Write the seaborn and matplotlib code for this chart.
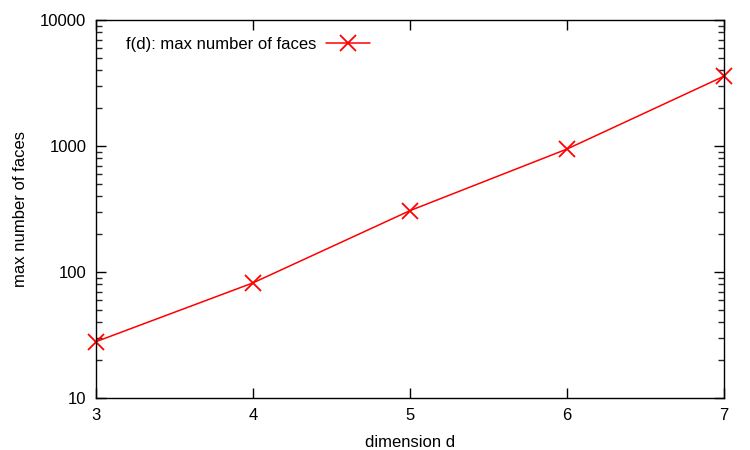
import matplotlib
matplotlib.use("Agg")
import matplotlib.pyplot as plt
import seaborn as sns
import pandas as pd
from matplotlib.ticker import LogLocator, NullFormatter

dims = [3, 4, 5, 6, 7]
faces = [28, 82, 307, 946, 3580]
series_label = "f(d): max number of faces"
y_ticks = [10, 100, 1000, 10000]
y_tick_labels = ["10", "100", "1000", "10000"]

sns.set_style("ticks")
plt.rcParams['font.family'] = ['Liberation Sans', 'DejaVu Sans']
plt.rcParams['text.color'] = 'black'
plt.rcParams['axes.labelcolor'] = 'black'

df = pd.DataFrame({"d": dims, "faces": faces})

fig = plt.figure(figsize=(7.5, 4.5), dpi=100)
ax = fig.add_axes([96/750, 1-398/450, (724-96)/750, (398-20)/450])

sns.lineplot(data=df, x="d", y="faces", ax=ax, color="#ff0000", linewidth=1.1,
             marker="x", markersize=11, markeredgewidth=1.3,
             markeredgecolor="#ff0000", label=series_label, clip_on=False)

ax.set_yscale("log")
ax.set_xlim(3, 7)
ax.set_ylim(10, 10000)
ax.set_xticks(dims)
ax.set_xticklabels([str(d) for d in dims])
ax.set_yticks(y_ticks)
ax.set_yticklabels(y_tick_labels)
ax.yaxis.set_minor_locator(LogLocator(base=10, subs=range(2, 10)))
ax.yaxis.set_minor_formatter(NullFormatter())

for s in ax.spines.values():
    s.set_visible(True)
    s.set_linewidth(1.0)
    s.set_color("black")

ax.tick_params(axis="both", which="major", direction="in", length=7, width=1,
               top=True, right=True, labelsize=12, pad=7, colors="black")
ax.tick_params(axis="y", which="minor", direction="in", length=4, width=1,
               right=True, left=True)
ax.tick_params(axis="x", which="minor", bottom=False, top=False)

ax.set_xlabel("dimension d", fontsize=12, labelpad=9, color="black")
ax.set_ylabel("max number of faces", fontsize=12, labelpad=9, color="black")

leg = ax.legend(loc="upper left", frameon=False, markerfirst=False,
                fontsize=12, handlelength=2.6, bbox_to_anchor=(0.024, 0.995),
                handletextpad=0.6)
for t in leg.get_texts():
    t.set_color("black")

fig.savefig("out.png", dpi=100)
